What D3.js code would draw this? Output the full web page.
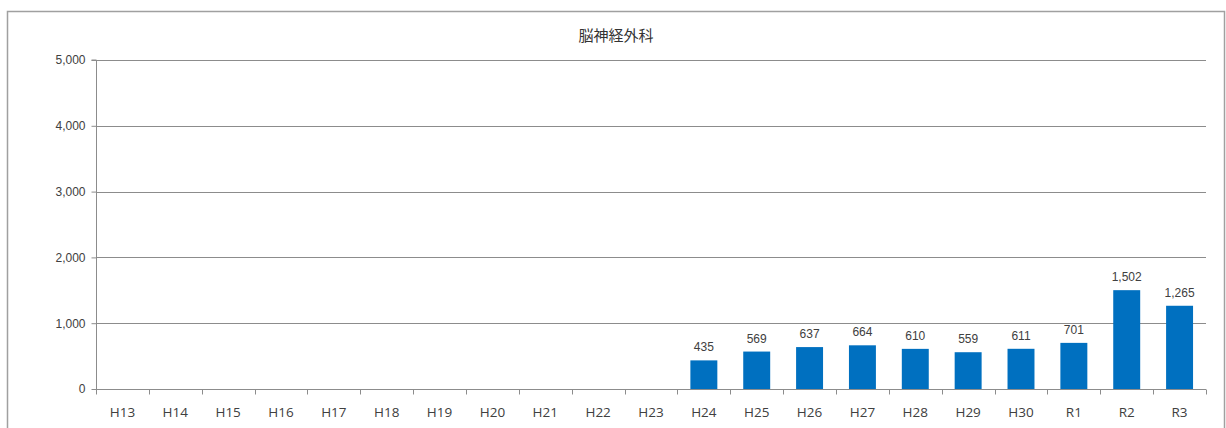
<!DOCTYPE html>
<html><head><meta charset="utf-8">
<script src="https://cdn.jsdelivr.net/npm/d3@7"></script>
<style>body{margin:0;background:#fff}svg{display:block}</style>
</head><body>
<svg id="c" width="1226" height="428"></svg>
<script>
const categories = ["H13","H14","H15","H16","H17","H18","H19","H20","H21","H22","H23","H24","H25","H26","H27","H28","H29","H30","R1","R2","R3"];
const values = [null,null,null,null,null,null,null,null,null,null,null,435,569,637,664,610,559,611,701,1502,1265];
const yTicks = [0,1000,2000,3000,4000,5000];
const title = "脳神経外科";

const svg = d3.select("#c");
const m = {left:96, right:1206, top:60, bottom:389};
svg.append("rect").attr("x",7.5).attr("y",11.5).attr("width",1217).attr("height",430)
  .attr("fill","#fff").attr("stroke","#a0a0a0").attr("stroke-width",1.5);

const x = d3.scaleBand().domain(categories).range([m.left,m.right]).paddingInner(0.49).paddingOuter(0.245);
const xb = d3.scaleBand().domain(categories).range([m.left,m.right]);
const y = d3.scaleLinear().domain([0,5000]).range([m.bottom,m.top]);

svg.append("text").attr("x",616).attr("y",41).attr("text-anchor","middle")
  .attr("font-family","'Noto Sans CJK JP'").attr("font-size",15).attr("fill","#333").text(title);

// gridlines
svg.append("g").selectAll("line").data(yTicks.filter(d=>d>0)).join("line")
  .attr("x1",m.left).attr("x2",m.right).attr("y1",d=>Math.round(y(d))+0.5).attr("y2",d=>Math.round(y(d))+0.5)
  .attr("stroke","#8c8c8c").attr("stroke-width",1);

// y axis
const ya = svg.append("g").attr("transform",`translate(${m.left+0.5},0)`)
  .call(d3.axisLeft(y).tickValues(yTicks).tickSize(5).tickPadding(6).tickFormat(d3.format(",")));
ya.select(".domain").attr("stroke","#8c8c8c").attr("d",`M-5,${m.top}H0V${m.bottom}`);
ya.selectAll(".tick line").attr("stroke","#8c8c8c");
ya.selectAll("text").attr("font-family","'Liberation Sans',Arial").attr("font-size",12).attr("fill","#404040");

// bars
svg.append("g").selectAll("rect").data(categories.map((c,i)=>({c,v:values[i]})).filter(d=>d.v!=null)).join("rect")
  .attr("x",d=>x(d.c)).attr("width",x.bandwidth()).attr("y",d=>y(d.v)).attr("height",d=>y(0)-y(d.v))
  .attr("fill","#0070C0");

// labels
svg.append("g").selectAll("text").data(categories.map((c,i)=>({c,v:values[i]})).filter(d=>d.v!=null)).join("text")
  .attr("x",d=>x(d.c)+x.bandwidth()/2).attr("y",d=>y(d.v)-9).attr("text-anchor","middle")
  .attr("font-family","'Liberation Sans Narrow','Liberation Sans',Arial").attr("font-size",12).attr("fill","#404040")
  .text(d=>d3.format(",")(d.v));

// x axis
const xa = svg.append("g").attr("transform",`translate(0,${m.bottom+0.5})`);
xa.append("line").attr("x1",m.left).attr("x2",m.right).attr("stroke","#8c8c8c");
xa.selectAll("line.t").data(d3.range(categories.length+1)).join("line").attr("class","t")
  .attr("x1",i=>Math.round(m.left+i*xb.step())+0.5).attr("x2",i=>Math.round(m.left+i*xb.step())+0.5)
  .attr("y1",0).attr("y2",5).attr("stroke","#8c8c8c");
xa.selectAll("text").data(categories).join("text")
  .attr("x",d=>xb(d)+xb.bandwidth()/2).attr("y",27).attr("text-anchor","middle")
  .attr("font-family","'Open Sans','Liberation Sans'").attr("font-size",13.5).attr("fill","#404040").text(d=>d);
</script>
</body></html>
